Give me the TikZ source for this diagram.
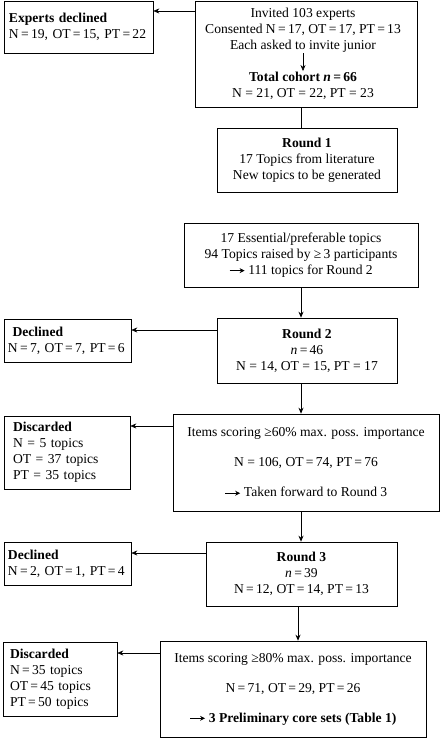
\documentclass[tikz,border=0pt]{standalone}
\usepackage{fontspec}
\setmainfont{Liberation Serif}
\usetikzlibrary{arrows.meta}
\newcommand{\fwdarrow}{\tikz[baseline=-0.6ex]\draw[-{Stealth[length=5pt,width=5pt]},thick](0,0)--(15pt,0);\ }
\newcommand{\eq}{\,=\,}
\begin{document}
\begin{tikzpicture}
[x=1pt,y=-1pt,
  boxdecorate/.style={draw,semithick,inner sep=0pt,align=center},
  sidedecorate/.style={boxdecorate,align=left},
  arrowdecorate/.style={-{Stealth[length=6pt,width=5pt]},semithick},
  font=\fontsize{13.6}{16}\selectfont]
\useasboundingbox (0,0) rectangle (440,738);
%% main column
\node (B) at (306,54) [boxdecorate,minimum width=222pt,minimum height=106pt] {};
\node (invited) at (303,30) [align=center,inner sep=1pt] {Invited 103 experts\\Consented N\eq17, OT\eq17, PT\eq13\\Each asked to invite junior};
\node (cohort) at (303,86) [align=center,inner sep=1pt] {\textbf{Total cohort \textit{n}\eq66}\\N = 21, OT = 22, PT = 23};
\node (R1) at (307,160) [boxdecorate,minimum width=180pt,minimum height=64pt] {\textbf{Round 1}\\17 Topics from literature\\New topics to be generated};
\node (C) at (301,255) [boxdecorate,minimum width=234pt,minimum height=64pt] {17 Essential/preferable topics\\94 Topics raised by ≥\,3 participants\\\fwdarrow 111 topics for Round 2};
\node (R2) at (307,350.5) [boxdecorate,minimum width=180pt,minimum height=65pt] {\textbf{Round 2}\\\textit{n}\eq46\\N = 14, OT = 15, PT = 17};
\node (I60) at (306,462.5) [boxdecorate,minimum width=266pt,minimum height=97pt] {Items scoring ≥60\% max. poss. importance\\[14pt]N = 106, OT\eq74, PT\eq76\\[14pt]\fwdarrow Taken forward to Round 3};
\node (R3) at (301.5,574) [boxdecorate,minimum width=191pt,minimum height=64pt] {\textbf{Round 3}\\\textit{n}\eq39\\N\eq12, OT\eq14, PT\eq13};
\node (I80) at (293,689) [boxdecorate,minimum width=266pt,minimum height=96pt] {Items scoring ≥80\% max. poss. importance\\[14pt]N\eq71, OT\eq29, PT\eq26\\[14pt]\textbf{\fwdarrow 3 Preliminary core sets (Table 1)}};
%% side boxes
\node (A) at (78.5,27) [sidedecorate,inner xsep=5pt,text width=139pt,minimum height=52pt] {\textbf{Experts declined}\\N\eq19, OT\eq15, PT\eq22};
\node (D1) at (67.5,340.5) [sidedecorate,inner xsep=4pt,text width=119pt,minimum height=43pt] {\textbf{\ Declined}\\N\eq7, OT\eq7, PT\eq6};
\node (X1) at (67,452.5) [sidedecorate,inner xsep=9pt,text width=108pt,minimum height=73pt] {\textbf{Discarded}\\N = 5 topics\\OT = 37 topics\\PT = 35 topics};
\node (D2) at (67.5,563.5) [sidedecorate,inner xsep=4pt,text width=119pt,minimum height=43pt] {\textbf{Declined}\\N\eq2, OT\eq1, PT\eq4};
\node (X2) at (60,679) [sidedecorate,inner xsep=7pt,text width=100pt,minimum height=74pt] {\textbf{Discarded}\\N\eq35 topics\\OT\eq45 topics\\PT\eq50 topics};
\coordinate (col) at (301,0);
\coordinate (lastcol) at (298,0);
%% edges
\draw[arrowdecorate] (invited.south) -- (cohort.north);
\draw[semithick] (B.south -| col) -- (R1.north -| col);
\foreach \startnode/\endnode in {C/R2, R2/I60, I60/R3} {
  \draw[arrowdecorate,thick] (\startnode.south -| col) -- (\endnode.north -| col);
}
\draw[arrowdecorate,thick] (R3.south -| lastcol) -- (I80.north -| lastcol);
\foreach \startnode/\endnode/\shift in {B/A/43, R2/D1/20.5, I60/X1/36.5, R3/D2/21, I80/X2/36} {
  \draw[arrowdecorate] ([yshift=\shift pt]\startnode.west) coordinate (s) -- (\endnode.east |- s);
}
\end{tikzpicture}
\end{document}
